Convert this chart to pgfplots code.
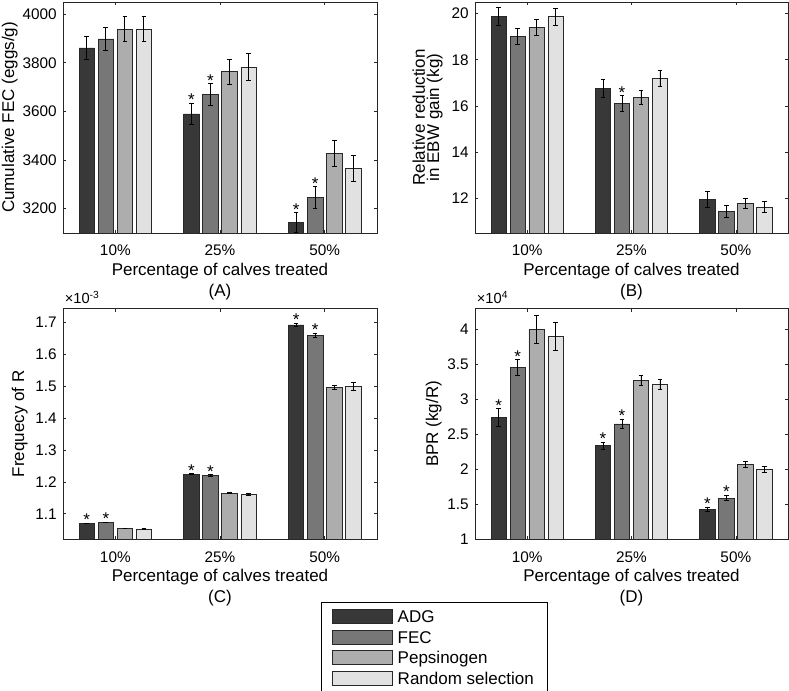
\documentclass[border=0pt]{standalone}
\usepackage{fontspec}
\setmainfont{Liberation Sans}
\usepackage{pgfplots}
\pgfplotsset{compat=1.18}
\definecolor{cADG}{RGB}{56,56,56}
\definecolor{cFEC}{RGB}{119,119,119}
\definecolor{cPEP}{RGB}{173,173,173}
\definecolor{cRND}{RGB}{225,225,225}
\definecolor{edgec}{RGB}{40,40,40}
\newcommand\lgtxt[1]{\raisebox{0pt}[12.06pt][2.94pt]{\makebox[112pt][l]{#1}}}
\pgfplotsset{
  panel/.style={
    scale only axis, anchor=south west,
    xmin=0.5, xmax=3.5, xtick={1,2,3}, xticklabels={10\%,25\%,50\%},
    tick align=inside, major tick length=2.6pt,
    tick style={black!85, line width=0.5pt},
    axis line style={black!85, line width=0.6pt},
    /pgf/number format/assume math mode=true,
    /pgf/number format/set thousands separator={},
    ticklabel style={font=\fontsize{11.5}{13}\selectfont, inner sep=0pt},
    xticklabel style={yshift=-9pt},
    yticklabel style={xshift=-4.5pt},
    scaled y ticks=false,
    label style={font=\fontsize{12.75}{15.75}\selectfont, inner sep=0pt},
    xlabel style={at={(axis description cs:0.5,-0.1299)}, anchor=north, align=center},
    error bars/error bar style={line width=0.6pt, black},
    error bars/error mark options={rotate=90, mark size=1.75pt, line width=0.6pt, black},
  },
  bars/.style={ybar, bar width=0.147, bar shift=0pt, draw=edgec, line width=0.5pt,
    error bars/y dir=both, error bars/y explicit},
  limg/.style={legend image code/.code={
      \path (0pt,-7.5pt) (56.75pt,7.5pt);
      \draw[fill=#1, draw=edgec, line width=0.6pt] (8.25pt,-5.25pt) rectangle (53.25pt,5.25pt);}},
  stars/.style={only marks, mark=text, text mark={*}, text mark as node=true,
    text mark style={anchor=base, inner sep=0pt, yshift=-2pt, font=\fontsize{12.75}{15}\selectfont, black},
    forget plot},
  scalelab/.style={after end axis/.code={\node[anchor=base west, inner sep=0pt, font=\fontsize{11}{12}\selectfont, xshift=1.2pt, yshift=3.3pt] at (rel axis cs:0,1) {×10\textsuperscript{#1}};}},
}
\begin{document}
\begin{tikzpicture}
\path[use as bounding box] (0pt,0pt) rectangle (591.75pt,-517.5pt);
% (A)
\begin{axis}[panel, at={(47.25pt,-174.75pt)}, width=235.5pt, height=173.25pt,
  ymin=3100, ymax=4050, ytick={3200,3400,3600,3800,4000},
  xlabel={Percentage of calves treated\\(A)},
  ylabel={Cumulative FEC (eggs/g)},
  ylabel style={at={(axis description cs:-0.1433,0.5)}, anchor=south}]
\addplot[bars, fill=cADG] coordinates {(0.7273,3861) +- (0,49) (1.7273,3590) +- (0,44) (2.7273,3143) +- (0,41)};
\addplot[bars, fill=cFEC] coordinates {(0.9091,3898) +- (0,49) (1.9091,3669) +- (0,45) (2.9091,3247) +- (0,44)};
\addplot[bars, fill=cPEP] coordinates {(1.0909,3939) +- (0,53) (2.0909,3763) +- (0,53) (3.0909,3427) +- (0,54)};
\addplot[bars, fill=cRND] coordinates {(1.2727,3939) +- (0,53) (2.2727,3782) +- (0,55) (3.2727,3367) +- (0,53)};
\addplot[stars] coordinates {(1.7273,3634) (1.9091,3714) (2.7273,3184) (2.9091,3291)};
\end{axis}
% (B)
\begin{axis}[panel, at={(356.25pt,-174.75pt)}, width=234.75pt, height=173.25pt,
  ymin=10.5, ymax=20.5, ytick={12,14,16,18,20},
  xlabel={Percentage of calves treated\\(B)},
  ylabel={Relative reduction\\in EBW gain (kg)},
  ylabel style={at={(axis description cs:-0.1022,0.5)}, anchor=south, align=center, font=\fontsize{12.75}{10.7}\selectfont}]
\addplot[bars, fill=cADG] coordinates {(0.7273,19.88) +- (0,0.39) (1.7273,16.76) +- (0,0.37) (2.7273,11.96) +- (0,0.33)};
\addplot[bars, fill=cFEC] coordinates {(0.9091,19.02) +- (0,0.35) (1.9091,16.10) +- (0,0.34) (2.9091,11.44) +- (0,0.27)};
\addplot[bars, fill=cPEP] coordinates {(1.0909,19.40) +- (0,0.35) (2.0909,16.37) +- (0,0.30) (3.0909,11.79) +- (0,0.22)};
\addplot[bars, fill=cRND] coordinates {(1.2727,19.86) +- (0,0.36) (2.2727,17.19) +- (0,0.33) (3.2727,11.63) +- (0,0.25)};
\addplot[stars] coordinates {(1.9091,16.44)};
\end{axis}
% (C)
\begin{axis}[panel, at={(47.25pt,-404.5pt)}, width=235.5pt, height=173.25pt,
  ymin=0.00102, ymax=0.001744,
  ytick={0.0011,0.0012,0.0013,0.0014,0.0015,0.0016,0.0017},
  yticklabels={1.1,1.2,1.3,1.4,1.5,1.6,1.7},
  xlabel={Percentage of calves treated\\(C)},
  ylabel={Frequecy of R},
  ylabel style={at={(axis description cs:-0.1115,0.5)}, anchor=south},
  scalelab={-3},
  legend style={at={(axis description cs:0.8217,-0.2727)}, anchor=north west,
    draw=black, line width=0.6pt, inner xsep=0pt, inner ysep=2.6pt,
    row sep=0pt, column sep=0pt,
    font=\fontsize{12.75}{15}\selectfont,
    nodes={inner sep=0pt, text depth=}, cells={anchor=west}}]
\addplot[bars, fill=cADG, limg=cADG] coordinates {(0.7273,0.0010707) +- (0,0.0000008) (1.7273,0.0012246) +- (0,0.000002) (2.7273,0.001692) +- (0,0.000006)};
\addlegendentry{\lgtxt{ADG}}
\addplot[bars, fill=cFEC, limg=cFEC] coordinates {(0.9091,0.0010735) +- (0,0.0000008) (1.9091,0.0012204) +- (0,0.000003) (2.9091,0.001660) +- (0,0.000006)};
\addlegendentry{\lgtxt{FEC}}
\addplot[bars, fill=cPEP, limg=cPEP] coordinates {(1.0909,0.001055) +- (0,0.0000006) (2.0909,0.001165) +- (0,0.000001) (3.0909,0.001496) +- (0,0.000007)};
\addlegendentry{\lgtxt{Pepsinogen}}
\addplot[bars, fill=cRND, limg=cRND] coordinates {(1.2727,0.001052) +- (0,0.000001) (2.2727,0.001162) +- (0,0.000003) (3.2727,0.001500) +- (0,0.000012)};
\addlegendentry{\lgtxt{Random selection}}
\addplot[stars] coordinates {(0.7273,0.0010715) (0.9091,0.0010743) (1.7273,0.0012266) (1.9091,0.0012234) (2.7273,0.001698) (2.9091,0.001666)};
\end{axis}
% (D)
\begin{axis}[panel, at={(356.25pt,-404.5pt)}, width=234.75pt, height=173.25pt,
  ymin=10000, ymax=43000,
  ytick={10000,15000,20000,25000,30000,35000,40000},
  yticklabels={1,1.5,2,2.5,3,3.5,4},
  xlabel={Percentage of calves treated\\(D)},
  ylabel={BPR (kg/R)},
  ylabel style={at={(axis description cs:-0.1054,0.5)}, anchor=south},
  scalelab={4}]
\addplot[bars, fill=cADG] coordinates {(0.7273,27380) +- (0,1300) (1.7273,23380) +- (0,500) (2.7273,14290) +- (0,300)};
\addplot[bars, fill=cFEC] coordinates {(0.9091,34520) +- (0,1140) (1.9091,26480) +- (0,700) (2.9091,15900) +- (0,400)};
\addplot[bars, fill=cPEP] coordinates {(1.0909,40000) +- (0,2000) (2.0909,32670) +- (0,700) (3.0909,20670) +- (0,400)};
\addplot[bars, fill=cRND] coordinates {(1.2727,39000) +- (0,2000) (2.2727,32100) +- (0,750) (3.2727,20000) +- (0,450)};
\addplot[stars] coordinates {(0.7273,28680) (0.9091,35660) (1.7273,23880) (1.9091,27180) (2.7273,14590) (2.9091,16300)};
\end{axis}
\end{tikzpicture}
\end{document}
